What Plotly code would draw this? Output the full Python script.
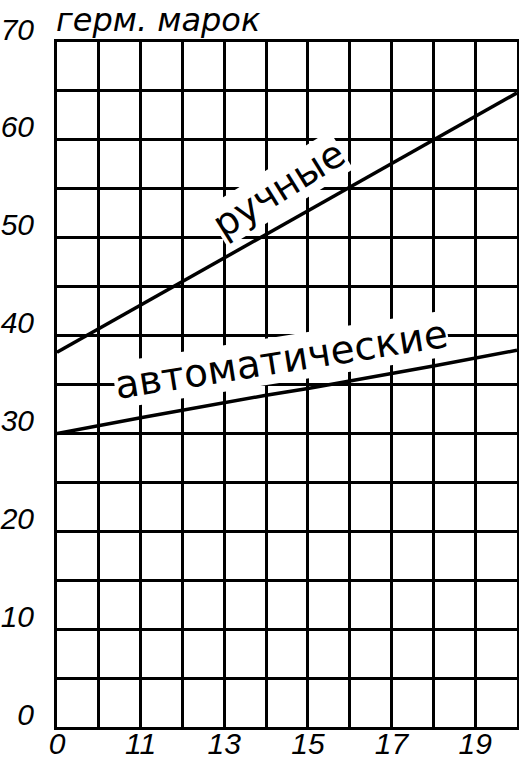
import plotly.graph_objects as go

# --- data ---
x_manual = [9, 12, 14, 18, 20]
y_manual = [38.3, 45.5, 50.3, 60.0, 64.8]

x_auto = [9, 11, 14, 15, 18, 20]
y_auto = [30.0, 31.6, 33.9, 34.6, 36.9, 38.5]

x_tick_vals = [9, 10, 11, 12, 13, 14, 15, 16, 17, 18, 19, 20]
x_tick_text = ["0", "", "11", "", "13", "", "15", "", "17", "", "19", ""]
y_tick_vals = [0, 5, 10, 15, 20, 25, 30, 35, 40, 45, 50, 55, 60, 65, 70]
y_tick_text = ["0", "", "10", "", "20", "", "30", "", "40", "", "50", "", "60", "", "70"]

label_manual = "ручные"
label_auto = "автоматические"
unit_title = "герм. марок"

FONT = "DejaVu Sans"
tick_font = dict(family="Liberation Sans", size=30, color="black", style="italic")

fig = go.Figure()
fig.add_trace(go.Scatter(x=x_manual, y=y_manual, mode="lines",
                         line=dict(color="black", width=3.5), showlegend=False))
fig.add_trace(go.Scatter(x=x_auto, y=y_auto, mode="lines",
                         line=dict(color="black", width=3.5), showlegend=False))

fig.add_annotation(x=14.3, y=55.0, xref="x", yref="y", text=label_manual,
                   textangle=-32, showarrow=False, bgcolor="white", borderpad=0,
                   font=dict(family=FONT, size=38, color="black"))
fig.add_annotation(x=14.35, y=37.6, xref="x", yref="y", text=label_auto,
                   textangle=-9, showarrow=False, bgcolor="white", borderpad=0,
                   font=dict(family=FONT, size=39, color="black"))
fig.add_annotation(x=0, y=1, xref="paper", yref="paper", xanchor="left", yanchor="bottom",
                   xshift=-3, yshift=1, text=unit_title, showarrow=False,
                   font=dict(family=FONT, size=32, color="black", style="italic"))

fig.update_xaxes(range=[9, 20], tickmode="array", tickvals=x_tick_vals, ticktext=x_tick_text,
                 showgrid=True, gridcolor="black", gridwidth=2.5,
                 showline=True, linecolor="black", linewidth=3, mirror=True,
                 ticks="", tickfont=tick_font, zeroline=False, automargin=False,
                 ticklabelstandoff=-12)
fig.update_yaxes(range=[0, 70], tickmode="array", tickvals=y_tick_vals, ticktext=y_tick_text,
                 showgrid=True, gridcolor="black", gridwidth=2.5,
                 showline=True, linecolor="black", linewidth=3, mirror=True,
                 ticks="", tickfont=tick_font, zeroline=False, automargin=False,
                 ticklabelshift=-13, ticklabelstandoff=14)

fig.update_layout(width=519, height=768, margin=dict(l=57, r=2, t=42, b=41),
                  paper_bgcolor="white", plot_bgcolor="white")

fig.write_html("out.html", config={"displayModeBar": False},
               post_script="document.body.style.margin='0';document.body.style.overflow='hidden';")
